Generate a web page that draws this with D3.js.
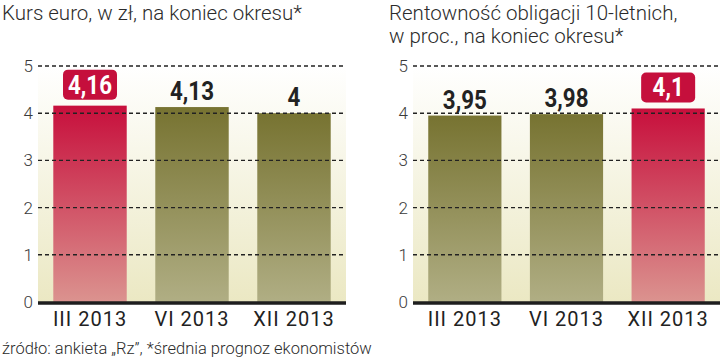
<!DOCTYPE html>
<html>
<head>
<meta charset="utf-8">
<script src="https://cdn.jsdelivr.net/npm/d3@7"></script>
<style>
  body { margin: 0; background: #fff; }
  svg { display: block; }
  .title, .tick-label, .period, .source { font-family: Roboto, "Noto Sans", sans-serif; fill: #2b2b2b; }
  .title { font-size: 20.5px; font-weight: 300; }
  .tick-label { font-size: 17px; font-weight: 300; fill: #3a3a3a; }
  .period { font-size: 20px; font-weight: 400; fill: #222; letter-spacing: 1px; }
  .source { font-size: 16.5px; font-weight: 300; }
  .value { font-family: Roboto, "Noto Sans", sans-serif; font-weight: 700; font-size: 26px; }
</style>
</head>
<body>
<div id="chart"></div>
<script>
const periods = ["III 2013", "VI 2013", "XII 2013"];
const euroRate = [4.16, 4.13, 4.0];
const bondYield = [3.95, 3.98, 4.1];
const yTicks = [0, 1, 2, 3, 4, 5];
const euroTitle = ["Kurs euro, w zł, na koniec okresu*"];
const bondTitle = ["Rentowność obligacji 10-letnich,", "w proc., na koniec okresu*"];
const sourceNote = "źródło: ankieta „Rz”, *średnia prognoz ekonomistów";

const svg = d3.select("#chart")
  .append("svg")
  .attr("width", 720)
  .attr("height", 358);

const defs = svg.append("defs");

function vGradient(id, top, bottom) {
  const g = defs.append("linearGradient")
    .attr("id", id)
    .attr("x1", 0).attr("y1", 0)
    .attr("x2", 0).attr("y2", 1);
  g.append("stop").attr("offset", "0%").attr("stop-color", top);
  g.append("stop").attr("offset", "100%").attr("stop-color", bottom);
}
vGradient("bg", "#ffffff", "#ebe8c3");
vGradient("red", "#c70f3c", "#db938f");
vGradient("olive", "#777331", "#b0ae84");

const fmt = v => String(v).replace(".", ",");

// narrow the bold value labels to mimic a condensed face
function valueText(sel, cx, baseline, label, color) {
  sel.append("text")
    .attr("class", "value")
    .attr("transform", `translate(${cx},${baseline}) scale(0.86,1)`)
    .attr("text-anchor", "middle")
    .attr("fill", color)
    .text(label);
}

function drawPanel(opts) {
  const { values, titles, titleX, left, right, highlight } = opts;

  const x = d3.scaleBand()
    .domain(periods)
    .range([left, right])
    .paddingInner(0.28)
    .paddingOuter(0.15);

  const y = d3.scaleLinear()
    .domain([0, 5])
    .range([302, 66]);

  const g = svg.append("g");

  g.append("rect")
    .attr("x", left)
    .attr("y", y(5))
    .attr("width", right - left)
    .attr("height", y(0) - y(5))
    .attr("fill", "url(#bg)");

  g.selectAll(".bar")
    .data(values)
    .enter()
    .append("rect")
    .attr("class", "bar")
    .attr("x", (d, i) => x(periods[i]))
    .attr("y", d => y(d))
    .attr("width", x.bandwidth())
    .attr("height", d => y(0) - y(d))
    .attr("fill", (d, i) => i === highlight ? "url(#red)" : "url(#olive)");

  // dashed grid sits on top of the bars
  g.selectAll(".grid")
    .data(yTicks.filter(t => t > 0))
    .enter()
    .append("line")
    .attr("x1", left)
    .attr("x2", right)
    .attr("y1", d => y(d))
    .attr("y2", d => y(d))
    .attr("stroke", "#222")
    .attr("stroke-width", 1.4)
    .attr("stroke-dasharray", "4,3");

  g.append("line")
    .attr("x1", left)
    .attr("x2", right)
    .attr("y1", y(0) + 1)
    .attr("y2", y(0) + 1)
    .attr("stroke", "#1e1e1e")
    .attr("stroke-width", 3.5);

  g.selectAll(".tick-label")
    .data(yTicks)
    .enter()
    .append("text")
    .attr("class", "tick-label")
    .attr("x", left - 5)
    .attr("y", d => y(d))
    .attr("dy", "0.35em")
    .attr("text-anchor", "end")
    .text(d => d);

  g.selectAll(".period")
    .data(periods)
    .enter()
    .append("text")
    .attr("class", "period")
    .attr("x", d => x(d) + x.bandwidth() / 2)
    .attr("y", 326)
    .attr("text-anchor", "middle")
    .text(d => d);

  values.forEach((v, i) => {
    const cx = x(periods[i]) + x.bandwidth() / 2;
    if (i === highlight) {
      g.append("rect")
        .attr("x", cx - 27)
        .attr("y", y(v) - 36)
        .attr("width", 54)
        .attr("height", 30)
        .attr("rx", 5)
        .attr("fill", "#c50f3c");
      valueText(g, cx, y(v) - 12, fmt(v), "#fff");
    } else {
      valueText(g, cx, y(v) - 7, fmt(v), "#222");
    }
  });

  g.selectAll(".title")
    .data(titles)
    .enter()
    .append("text")
    .attr("class", "title")
    .attr("x", titleX)
    .attr("y", (d, i) => 20 + i * 23)
    .text(d => d);
}

drawPanel({ values: euroRate, titles: euroTitle, titleX: 2, left: 38, right: 346, highlight: 0 });
drawPanel({ values: bondYield, titles: bondTitle, titleX: 389, left: 413, right: 720, highlight: 2 });

svg.append("text")
  .attr("class", "source")
  .attr("x", 2)
  .attr("y", 354)
  .text(sourceNote);
</script>
</body>
</html>
